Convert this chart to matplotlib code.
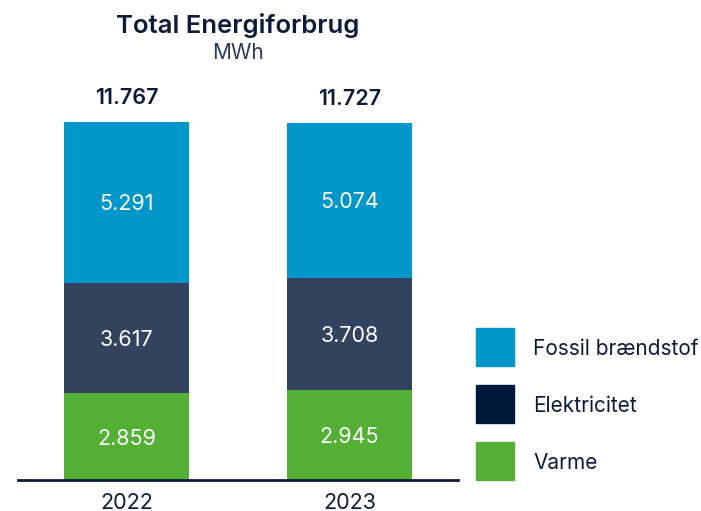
import matplotlib
matplotlib.use("Agg")
import matplotlib.pyplot as plt
from matplotlib.patches import Rectangle

plt.rcParams['font.family'] = ['Inter', 'DejaVu Sans']

years = ['2022', '2023']
varme = [2859, 2945]
elektricitet = [3617, 3708]
fossil = [5291, 5074]
series_names = ['Fossil brændstof', 'Elektricitet', 'Varme']

c_fossil = '#0096C9'
c_el_bar = '#33425E'
c_el_legend = '#00183A'
c_varme = '#53B034'
navy = '#0D1B3A'


def fmt(v):
    return f'{v:,}'.replace(',', '.')


fig = plt.figure(figsize=(7.01, 5.11), dpi=100)
ax = fig.add_axes([18 / 701, 31 / 511, 440 / 701, 358 / 511])

x = list(range(len(years)))
w = 0.56
totals = [a + b + c for a, b, c in zip(varme, elektricitet, fossil)]
bottoms_el = varme
bottoms_fo = [a + b for a, b in zip(varme, elektricitet)]

ax.bar(x, varme, w, color=c_varme)
ax.bar(x, elektricitet, w, bottom=bottoms_el, color=c_el_bar)
ax.bar(x, fossil, w, bottom=bottoms_fo, color=c_fossil)

# segment labels sit a bit under the geometric middle, like the original
for i in x:
    ax.text(i, varme[i] / 2, fmt(varme[i]), ha='center', va='center_baseline',
            color='white', fontsize=15.5)
    ax.text(i, bottoms_el[i] + elektricitet[i] / 2, fmt(elektricitet[i]),
            ha='center', va='center_baseline', color='white', fontsize=15.5)
    ax.text(i, bottoms_fo[i] + fossil[i] / 2, fmt(fossil[i]),
            ha='center', va='center_baseline', color='white', fontsize=15.5)
    ax.text(i, totals[i] + 790, fmt(totals[i]), ha='center', va='center',
            color=navy, fontsize=15.5, fontweight='semibold')

ax.set_xlim(-0.4865, 1.4865)
ax.set_ylim(0, max(totals))
for s in ['top', 'right', 'left']:
    ax.spines[s].set_visible(False)
ax.spines['bottom'].set_color(navy)
ax.spines['bottom'].set_linewidth(2)
ax.set_yticks([])
ax.set_xticks(x)
ax.set_xticklabels(years, fontsize=15.5, color=navy)
ax.tick_params(axis='x', length=0, pad=9)

fig.text(238 / 701, 1 - 25 / 511, 'Total Energiforbrug', ha='center', va='center',
         fontsize=18.5, fontweight='semibold', color=navy)
fig.text(238 / 701, 1 - 53 / 511, 'MWh', ha='center', va='center',
         fontsize=15, color='#2B3A55')

legend_colors = [c_fossil, c_el_legend, c_varme]
legend_y = [347, 404, 461]
for name, col, yc in zip(series_names, legend_colors, legend_y):
    fig.patches.append(Rectangle((476 / 701, 1 - (yc + 19) / 511), 38 / 701, 38 / 511,
                                 transform=fig.transFigure, color=col))
    fig.text(533 / 701, 1 - yc / 511, name, ha='left', va='center_baseline',
             fontsize=15, color=navy)

fig.savefig('out.png', dpi=100)
